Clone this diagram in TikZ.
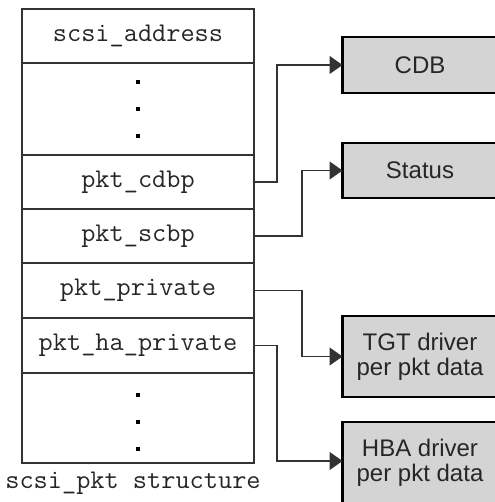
\documentclass[tikz,border=0pt]{standalone}
\usepackage{fontspec}
\setmainfont{Liberation Sans}
\newfontfamily\monofont[FakeStretch=1.02]{Latin Modern Mono}
\usetikzlibrary{positioning,arrows.meta}
\colorlet{gline}{black!80}
\colorlet{gbox}{black!17}

\begin{document}
\begin{tikzpicture}[
            x=0.5pt,y=-0.5pt,
            every node/.append style={black!85},
            field/.style={draw=gline,line width=0.6pt,minimum width=116pt,
                inner sep=0pt,outer sep=0pt,font=\monofont\fontsize{13.5}{13.5}\selectfont},
            target/.style={draw=black,line width=1.1pt,fill=gbox,minimum width=77.5pt,
                inner sep=0pt,outer sep=0pt,align=center,
                font=\fontsize{12}{12.5}\selectfont},
            link/.style={gline,line width=0.6pt,-{Triangle[length=6.5pt,width=9pt]}},
            dot/.style={fill=black,minimum size=2.2pt,inner sep=0pt}
        ]
            \useasboundingbox (0,0) rectangle (494,502);
            % the structure
            \node [field,minimum height=27pt] (addr) at (138,36) {scsi\_address};
            \node [field,minimum height=46pt,below=0pt of addr] (gap1) {};
            \node [field,minimum height=27pt,below=0pt of gap1] (cdbp) {pkt\_cdbp};
            \node [field,minimum height=27pt,below=0pt of cdbp] (scbp) {pkt\_scbp};
            \node [field,minimum height=27.5pt,below=0pt of scbp] (priv) {pkt\_private};
            \node [field,minimum height=27.5pt,below=0pt of priv] (hapriv) {pkt\_ha\_private};
            \node [field,minimum height=45pt,below=0pt of hapriv] (gap2) {};
            \foreach \d in {-27,0,27} {
                \node [dot] at ([yshift=\d*0.5pt]gap1.center) {};
                \node [dot] at ([yshift=\d*0.5pt-2pt]gap2.center) {};
            }
            \node [font=\monofont\fontsize{13.5}{13.5}\selectfont] (caption) at (133,483)
                {scsi\_pkt structure};
            % what the pointers point to
            \node [target,minimum height=28pt] (cdb) at (420,65) {CDB};
            \node [target,minimum height=27.5pt] (status) at (420,170.5) {Status};
            \node [target,minimum height=40.5pt] (tgt) at (420,356.5)
                {TGT driver\\per pkt data};
            \node [target,minimum height=40.5pt] (hba) at (420,462.5)
                {HBA driver\\per pkt data};
            \draw [link] (cdbp.east) -- ++(23,0) |- (cdb.west);
            \draw [link] (scbp.east) -- ++(48,0) |- (status.west);
            \draw [link] (priv.east) -- ++(48,0) |- (tgt.west);
            \draw [link] (hapriv.east) -- ++(23,0) |- ([yshift=0.75pt]hba.west);
        \end{tikzpicture}
\end{document}
